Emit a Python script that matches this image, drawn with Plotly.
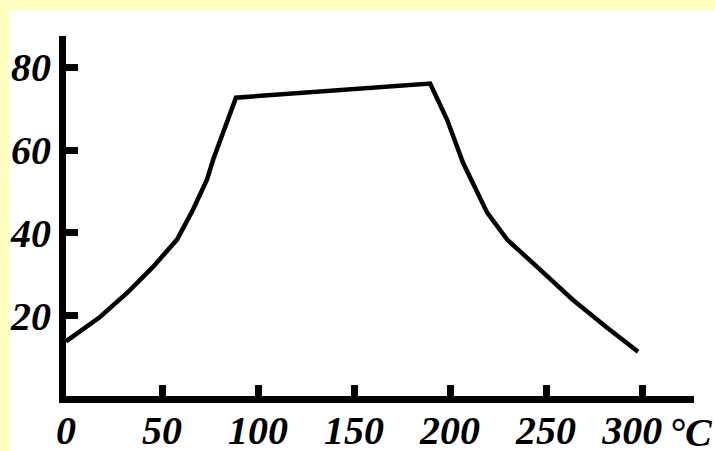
import plotly.graph_objects as go

# Temperature (°C) and value
temp_c = [0, 17.7, 31.8, 45.3, 57.8, 66.1, 73.4, 76.6, 88.5, 189.6,
          198.4, 206.8, 219.3, 229.7, 245.3, 264, 281.8, 297.9]
value = [13.8, 19.7, 25.5, 31.8, 38.4, 45.6, 52.9, 57.7, 72.7, 76.1,
         67.4, 56.9, 44.9, 38.4, 31.8, 23.8, 17.1, 11.3]

x_ticks = [0, 50, 100, 150, 200, 250, 300]
x_tick_labels = ["0", "50", "100", "150", "200", "250", "300\u2002"]
y_ticks = [20, 40, 60, 80]
y_tick_labels = ["20", "40", "60", "80"]
unit_label = "°C"

W, H = 715, 451
ML, MR, MT, MB = 66, 21, 36, 55
pw = W - ML - MR
ph = H - MT - MB

def px2x(px):
    return (px - ML) / pw

def py2y(py):
    return (H - MB - py) / ph

YELLOW = "#FFFFC0"
tick_font = dict(family="Liberation Serif", size=40, color="black",
                 weight="bold", style="italic")

fig = go.Figure()
fig.add_trace(go.Scatter(x=temp_c, y=value, mode="lines",
                         line=dict(color="black", width=4.5),
                         hoverinfo="skip", showlegend=False))

fig.update_layout(
    template="none",
    width=W, height=H,
    margin=dict(l=ML, r=MR, t=MT, b=MB, pad=0, autoexpand=False),
    paper_bgcolor="white", plot_bgcolor="white",
    showlegend=False,
    xaxis=dict(range=[0, 327], tickvals=x_ticks, ticktext=x_tick_labels,
               showgrid=False, zeroline=False, showline=True,
               linecolor="black", linewidth=7, ticks="inside",
               ticklen=11, tickwidth=7, tickcolor="black", automargin=False,
               tickfont=tick_font, ticklabelstandoff=-7, fixedrange=True),
    yaxis=dict(range=[0.6, 87.6], tickvals=y_ticks, ticktext=y_tick_labels,
               showgrid=False, zeroline=False, showline=True,
               linecolor="black", linewidth=7, ticks="inside",
               ticklen=12, tickwidth=7, tickcolor="black", automargin=False,
               tickfont=tick_font, ticklabelstandoff=0, fixedrange=True),
    shapes=[
        dict(type="rect", xref="paper", yref="paper", layer="below",
             x0=px2x(0), x1=px2x(9), y0=py2y(H), y1=py2y(0),
             fillcolor=YELLOW, line=dict(width=0)),
        dict(type="rect", xref="paper", yref="paper", layer="below",
             x0=px2x(0), x1=px2x(W), y0=py2y(10), y1=py2y(0),
             fillcolor=YELLOW, line=dict(width=0)),
    ],
    annotations=[
        dict(text=unit_label, xref="paper", yref="paper",
             x=px2x(667), y=py2y(432), xanchor="left", yanchor="middle",
             showarrow=False, font=tick_font),
    ],
)

fig.write_html("out.html", config={"displayModeBar": False},
               post_script="document.body.style.margin='0';"
                           "document.body.style.padding='0';")
